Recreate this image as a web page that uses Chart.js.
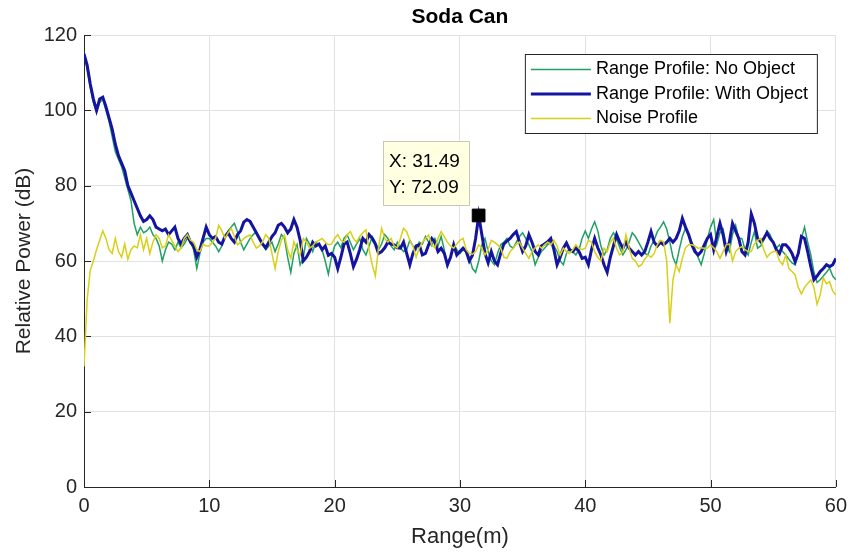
<!DOCTYPE html>
<html>
<head>
<meta charset="utf-8">
<title>Soda Can</title>
<script src="https://cdn.jsdelivr.net/npm/chart.js@4.4.1/dist/chart.umd.min.js"></script>
<style>
  html, body { margin: 0; padding: 0; background: #fff; }
  #wrap { width: 854px; height: 554px; }
</style>
</head>
<body>
<div id="wrap"><canvas id="chart" width="854" height="554"></canvas></div>
<script>
// range bins are 0.25 m apart, 0..60 m
const rangeStep = 0.25;

const noObject = [
  115,111,106,102,99.5,102,103,100,97,93,89,87,85,82,79,76,70,67,69,67.5,68,69,67,66,64,60,63,65,64.5,63,65,63.5,64.5,66,65,63,58,62,65,66,
  66,65,64,62.5,64,66.5,68,69,70,67.8,65,63,64.5,66,67,67.8,66,64.5,63,64,65,62.5,64.5,67,66,61,57,62,64.3,59,61,66,64.5,62.5,65,64.3,63,60,56.5,61,
  64,65,63.5,66,67,65,63,64.5,66,63,61.6,64,66.5,65,63,64.5,67,66,64,63,65,63.5,62.5,63,65.5,64,63,65,64.5,66.5,65,64,66,64,66.5,63,58.5,61,64.5,63,
  62,63,63,61,58,57,60,64.3,66,62.5,60,59,62,64.3,65,66,64,63.4,65,66.5,67.5,66,64.3,62.5,59,61,62.5,63.4,64.3,65,64,62.5,60,59,62,63.4,62.5,61.6,63,66,
  68,66,68.5,70.4,68,64,61.6,63,66,67.5,66,63.5,61.6,63,65,67.5,66.5,65,63.5,62,61.6,64,65.5,67.8,69,70.4,68.5,65,61,59,63,66.5,68.7,67,65,63.4,61,59,62,66,
  69,71,64.5,67.5,68.5,64,62.5,67,69.5,66,66,63,61.6,65,67.8,63.4,64,65.5,68,67,65,63.4,64.3,62.5,61.6,60.5,59.5,59,62,66,69,65,61.6,57,54.3,55,56,57,58.1,56,
  55
];

const withObject = [
  115,112,107,103,100,103,103.5,101,98,95,91,88,86,84,80,78,76,74,72,70.5,71,72,71,69,68.5,68,68.5,67,68,69,66,64.5,66,67,65,64,61,63,66,69,
  67,66,66.5,65,64.5,66.5,67.5,66,65,67,68,70.3,71,70.5,69,67.5,66,64.5,63.5,65,66.5,67.5,69.5,70,69,67.5,68.5,71,69,65.5,60,61,62.5,65,64,64.5,63,64,61.5,62,
  61,58,61,64.5,65,62,58.5,60.5,63,66,65,67,66,64.5,62,62.5,63.5,65,64.5,64.3,63.5,63.4,65,62,59,62,64,64.3,61.6,62,64.3,66,65,62.5,63.4,62,59,61,64.3,61.6,
  62.5,63.4,62.5,60,61.5,66,72.09,67,62,59.5,62.5,60,59,62,64.5,65.3,66,67,67.8,65,62.5,64,67,65,62.5,61.6,64,64.5,65.1,66,63,59,61,63.4,64.8,63,62.5,63.5,62.5,60.7,
  61,59,63,66,63.5,61.6,59,57,61,64,67,65,63.4,65,63.4,62.5,61.6,62.5,61.6,62.5,65,67.8,65,64,65,64.3,65,66,65,66,68,71.3,69,67,64.3,62.5,61.6,62.5,64.3,66,
  67,63,66.5,70,67,62.5,65,70,68,66,62.5,61.6,65,72.5,70,66,65.1,66,67.5,66,65,63,62,64.3,64.3,63.4,62,59.8,62,66.5,66,62.5,58.5,55,56,57.2,58,59,58.5,59,
  60.7
];

const noise = [
  32,49.6,57.6,60,63,65.5,68,66,63,62,66,62.5,61,64.5,60.5,63,64,63.5,67,63,66,62,65,67,66,63.5,64,67,65.5,64,62.5,63.5,66,67,65.5,65,63,62.5,64.5,64,
  64,65,66,69.5,68,66,67.5,68.7,66.5,64.3,65,66,66.5,66.9,65,63.4,64,65.1,67,66,62,58,62.5,65.5,66.9,63,60.7,65.1,63,61.6,66,65,63.4,64,65.1,65.5,66,65,64.3,64.5,
  66,67,65.5,65,67,67.8,66,65,66.5,67.5,68.3,63,59,56,63.5,68.7,66,65,66,64,63.5,66,68.7,67.8,65.5,64,61,63.4,65,66,66.9,64.3,63.5,66,67.8,66.5,65,64,63.4,64.5,
  65.5,66,63,62,61.8,62.5,64.3,63.4,61.6,63,65.5,65,64.3,63.5,61,60.7,62.5,63.4,64.5,65,63.4,62,60.7,62.5,63.5,64.3,63.4,64.3,65,64.3,65.5,64,61.6,63.4,62.5,62,63,64.3,63.4,63,
  63.4,65.5,65,62.5,61,60,63.4,62.5,65,66,63.4,61.6,62.5,67,63.4,60.7,60,58.5,59,60.5,61.6,61,62,64.3,65.5,65.1,60,43.5,55,59,57.2,60.7,63.5,64.3,64.3,64,63.4,63.5,63.4,63.4,
  64.3,63.5,62.5,60.7,62.5,64.3,64.5,60,62.5,63.4,63.8,63,62.5,62.5,64.5,65.5,66,63,61,62,62.5,62.5,60,59,61.6,58,57.2,56.3,53,51.3,53,54,55,53,48.5,51,55.5,54,54.5,52,
  51
];

// data tip
const tipX = 31.49;
const tipY = 72.09;

const xTicks = [0, 10, 20, 30, 40, 50, 60];
const yTicks = [0, 20, 40, 60, 80, 100, 120];

const FONT = '"Liberation Sans", Arial, Helvetica, sans-serif';
const AXIS = '#262626';

const toPoints = arr => arr.map((v, i) => ({ x: i * rangeStep, y: v }));

const titlePlugin = {
    id: 'titlePlugin',
    afterDraw(chart) {
        const { ctx, chartArea } = chart;
        ctx.save();
        ctx.font = 'bold 21px ' + FONT;
        ctx.fillStyle = '#000';
        ctx.textAlign = 'center';
        ctx.textBaseline = 'middle';
        ctx.fillText('Soda Can', (chartArea.left + chartArea.right) / 2, 17);
        ctx.restore();
    }
};

// matlab style ticks pointing into the axes
const innerTicks = {
    id: 'innerTicks',
    beforeDatasetsDraw(chart) {
        const { ctx, chartArea, scales } = chart;
        ctx.save();
        ctx.strokeStyle = AXIS;
        ctx.lineWidth = 1;
        ctx.beginPath();
        xTicks.forEach(v => {
            const px = Math.round(scales.x.getPixelForValue(v)) + 0.5;
            ctx.moveTo(px, chartArea.bottom);
            ctx.lineTo(px, chartArea.bottom - 7);
        });
        yTicks.forEach(v => {
            const py = Math.round(scales.y.getPixelForValue(v)) + 0.5;
            ctx.moveTo(chartArea.left, py);
            ctx.lineTo(chartArea.left + 7, py);
        });
        ctx.stroke();
        ctx.restore();
    }
};

const boxLegend = {
    id: 'boxLegend',
    afterDraw(chart) {
        const { ctx, chartArea } = chart;
        const items = chart.data.datasets.filter(d => d.inLegend);
        ctx.save();
        ctx.font = '18px ' + FONT;
        const textW = Math.max(...items.map(d => ctx.measureText(d.label).width));
        const rowH = 24.5;
        const w = Math.round(71 + textW + 9);
        const h = Math.round(rowH * items.length + 5);
        const right = chartArea.right - 19;
        const top = chartArea.top + 19;
        const left = right - w;
        ctx.fillStyle = '#fff';
        ctx.fillRect(left, top, w, h);
        ctx.strokeStyle = AXIS;
        ctx.lineWidth = 1;
        ctx.strokeRect(left + 0.5, top + 0.5, w, h);
        items.forEach((d, i) => {
            const y = top + 15.5 + i * rowH;
            ctx.strokeStyle = d.borderColor;
            ctx.lineWidth = d.borderWidth;
            ctx.beginPath();
            ctx.moveTo(left + 6, y);
            ctx.lineTo(left + 66, y);
            ctx.stroke();
            ctx.fillStyle = '#000';
            ctx.textBaseline = 'middle';
            ctx.fillText(d.label, left + 71, y);
        });
        ctx.restore();
    }
};

const dataTip = {
    id: 'dataTip',
    afterDraw(chart) {
        const idx = chart.data.datasets.findIndex(d => d.isTip);
        const pt = chart.getDatasetMeta(idx).data[0];
        const { ctx } = chart;
        const lines = ['X: ' + tipX.toFixed(2), 'Y: ' + tipY.toFixed(2)];
        ctx.save();
        ctx.font = '19px ' + FONT;
        const w = Math.round(Math.max(...lines.map(s => ctx.measureText(s).width)) + 15);
        const h = 64;
        const x0 = Math.round(pt.x) - 10 - w;
        const y0 = Math.round(pt.y) - 10 - h;
        ctx.fillStyle = '#ffffe1';
        ctx.fillRect(x0, y0, w, h);
        ctx.strokeStyle = '#c8c8b4';
        ctx.lineWidth = 1;
        ctx.strokeRect(x0 + 0.5, y0 + 0.5, w, h);
        ctx.fillStyle = '#000';
        ctx.textBaseline = 'middle';
        ctx.fillText(lines[0], x0 + 6, y0 + 21);
        ctx.fillText(lines[1], x0 + 6, y0 + 47);
        ctx.restore();
    }
};

new Chart(document.getElementById('chart'), {
    type: 'line',
    data: {
        datasets: [
            {
                label: 'Range Profile: No Object',
                data: toPoints(noObject),
                borderColor: '#20a064',
                borderWidth: 1.5,
                order: 3,
                inLegend: true
            },
            {
                label: 'Range Profile: With Object',
                data: toPoints(withObject),
                borderColor: '#1414a0',
                borderWidth: 3,
                order: 2,
                inLegend: true
            },
            {
                label: 'Noise Profile',
                data: toPoints(noise),
                borderColor: '#d8d016',
                borderWidth: 1.5,
                order: 1,
                inLegend: true
            },
            {
                label: 'tip',
                data: [{ x: tipX, y: tipY }],
                showLine: false,
                pointStyle: 'rect',
                pointRadius: 9,
                pointBackgroundColor: '#000',
                pointBorderColor: '#000',
                pointBorderWidth: 1,
                order: 0,
                isTip: true
            }
        ]
    },
    options: {
        responsive: false,
        animation: false,
        events: [],
        layout: { padding: { top: 35, right: 14, left: 0, bottom: 0 } },
        elements: {
            line: { tension: 0, fill: false },
            point: { radius: 0 }
        },
        plugins: {
            legend: { display: false },
            tooltip: { enabled: false },
            title: { display: false }
        },
        scales: {
            x: {
                type: 'linear',
                min: 0,
                max: 60,
                afterBuildTicks: s => { s.ticks = xTicks.map(v => ({ value: v })); },
                afterFit: s => { s.height = 67; },
                ticks: { color: AXIS, font: { family: FONT, size: 20 }, padding: 7, maxRotation: 0 },
                grid: { color: '#e2e2e2', drawTicks: false },
                border: { color: AXIS, width: 1 },
                title: {
                    display: true,
                    text: 'Range(m)',
                    color: AXIS,
                    font: { family: FONT, size: 22 },
                    padding: { top: 0, bottom: 4 }
                }
            },
            y: {
                min: 0,
                max: 120,
                afterBuildTicks: s => { s.ticks = yTicks.map(v => ({ value: v })); },
                afterFit: s => { s.width = 84; },
                ticks: { color: AXIS, font: { family: FONT, size: 20 }, padding: 7 },
                grid: { color: '#e2e2e2', drawTicks: false },
                border: { color: AXIS, width: 1 },
                title: {
                    display: true,
                    text: 'Relative Power (dB)',
                    color: AXIS,
                    font: { family: FONT, size: 21 },
                    padding: { top: 12, bottom: 0 }
                }
            }
        }
    },
    plugins: [innerTicks, titlePlugin, boxLegend, dataTip]
});
</script>
</body>
</html>
